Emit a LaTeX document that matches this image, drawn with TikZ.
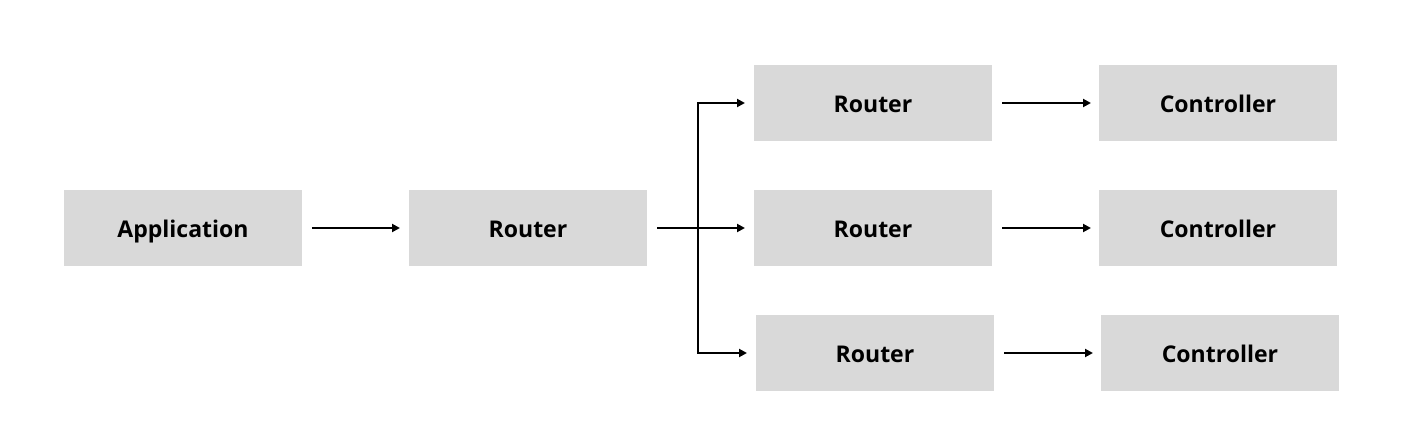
\documentclass[tikz,border=0pt]{standalone}
\usepackage{fontspec}
\setmainfont{Open Sans}
\usetikzlibrary{arrows.meta, positioning}

\begin{document}
\begin{tikzpicture}[->, >={Triangle[length=4.5pt,width=4.5pt]}, line width=1.1pt,
  box/.style={fill=black!15, minimum width=4.76cm, minimum height=1.52cm, outer sep=0pt,
    text height=2.07ex, text depth=0.1ex, font=\fontsize{13.1}{16}\selectfont\bfseries},
  node distance=0.98cm and 2.14cm]
  \useasboundingbox (-3.66,-4.36) rectangle (24.76,4.56);

  % Nodes
  \node[box] (app) {Application};
  \node[box, right=of app] (rA) {Router};
  \node[box, right=of rA] (rB) {Router};
  \node[box, above=of rB] (rT) {Router};
  \node[box, below=of rB, xshift=0.04cm] (rD) {Router};
  \node[box, right=of rT] (cT) {Controller};
  \node[box, right=of rB] (cB) {Controller};
  \node[box, right=of rD] (cD) {Controller};
  \coordinate[right=1.02cm of rA.east] (split);

  % Arrows
  \draw[shorten <=0.2cm, shorten >=0.18cm] (app) -- (rA);
  \draw[shorten <=0.2cm, shorten >=0.18cm] (rA) -- (rB);
  \draw[shorten >=0.18cm] (split) |- (rT);
  \draw[shorten >=0.18cm] (split) |- (rD);

  \draw[shorten <=0.2cm, shorten >=0.16cm] (rT) -- (cT);
  \draw[shorten <=0.2cm, shorten >=0.16cm] (rB) -- (cB);
  \draw[shorten <=0.2cm, shorten >=0.16cm] (rD) -- (cD);
\end{tikzpicture}
\end{document}
